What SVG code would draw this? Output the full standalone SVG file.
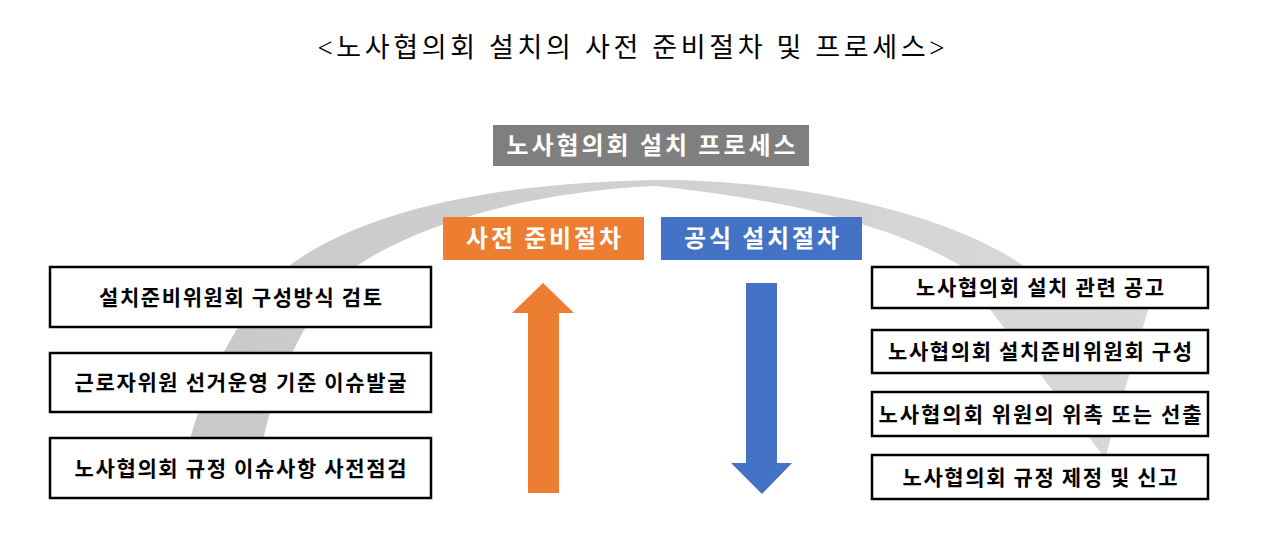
<svg xmlns="http://www.w3.org/2000/svg" width="1262" height="544" viewBox="0 0 1262 544">
<defs>
<linearGradient id="g" x1="180" y1="0" x2="1150" y2="0" gradientUnits="userSpaceOnUse">
<stop offset="0" stop-color="#c9c9c9"/>
<stop offset="1" stop-color="#d9d9d9"/>
</linearGradient>
</defs>
<style>
.t{font-family:"Noto Sans CJK KR","Noto Sans",sans-serif;text-anchor:middle}
.title{font-family:"Liberation Serif","Noto Sans CJK KR",serif;font-size:27px;fill:#000}
.box{fill:#fff;stroke:#000;stroke-width:2.5}
.bt{font-size:21px;font-weight:700;fill:#000}
.lt{font-size:24px;font-weight:700;fill:#fff}
</style>
<rect width="1262" height="544" fill="#fff"/>
<text class="t title" x="631" y="57" textLength="627">&lt;노사협의회 설치의 사전 준비절차 및 프로세스&gt;</text>
<g id="arc">
<path d="M182,476 C195,400 235,310 293,263 C360,215 480,183 655,180 C800,179 1000,218 1064,303 L1150,303 L1105,458 L985,303 L1008,303 C950,240 820,203 655,186 C520,192 400,230 345,275 C300,320 265,400 258,476 Z" fill="url(#g)"/>
</g>
<g id="header">
<rect x="493" y="125" width="316" height="41" fill="#7f7f7f"/>
<text class="t lt" x="651" y="154" textLength="289">노사협의회 설치 프로세스</text>
</g>
<g id="prep">
<rect x="443" y="217" width="201" height="43" fill="#ed7d31"/>
<text class="t lt" x="543.5" y="247" textLength="155">사전 준비절차</text>
</g>
<g id="formal">
<rect x="661" y="217" width="201" height="43" fill="#4472c4"/>
<text class="t lt" x="761.5" y="247" textLength="155">공식 설치절차</text>
</g>
<g id="connectors">
<path d="M528,493 L528,313 L512,313 L543,283 L574,313 L559,313 L559,493 Z" fill="#ed7d31"/>
<path d="M746,283 L777,283 L777,463 L792,463 L762,494 L731,463 L746,463 Z" fill="#4472c4"/>
</g>
<g id="left1">
<rect class="box" x="50" y="267" width="381" height="60"/>
<text class="t bt" x="240.5" y="305" textLength="283">설치준비위원회 구성방식 검토</text>
</g>
<g id="left2">
<rect class="box" x="50" y="353" width="381" height="59"/>
<text class="t bt" x="240.5" y="390" textLength="332">근로자위원 선거운영 기준 이슈발굴</text>
</g>
<g id="left3">
<rect class="box" x="50" y="438" width="381" height="60"/>
<text class="t bt" x="240.5" y="476" textLength="332">노사협의회 규정 이슈사항 사전점검</text>
</g>
<g id="right1">
<rect class="box" x="872" y="267" width="336" height="41"/>
<text class="t bt" x="1040" y="295" textLength="248">노사협의회 설치 관련 공고</text>
</g>
<g id="right2">
<rect class="box" x="872" y="330" width="336" height="43"/>
<text class="t bt" x="1040" y="359" textLength="304">노사협의회 설치준비위원회 구성</text>
</g>
<g id="right3">
<rect class="box" x="872" y="392" width="336" height="44"/>
<text class="t bt" x="1040" y="422" textLength="323">노사협의회 위원의 위촉 또는 선출</text>
</g>
<g id="right4">
<rect class="box" x="872" y="455" width="336" height="44"/>
<text class="t bt" x="1040" y="485" textLength="275">노사협의회 규정 제정 및 신고</text>
</g>
</svg>
